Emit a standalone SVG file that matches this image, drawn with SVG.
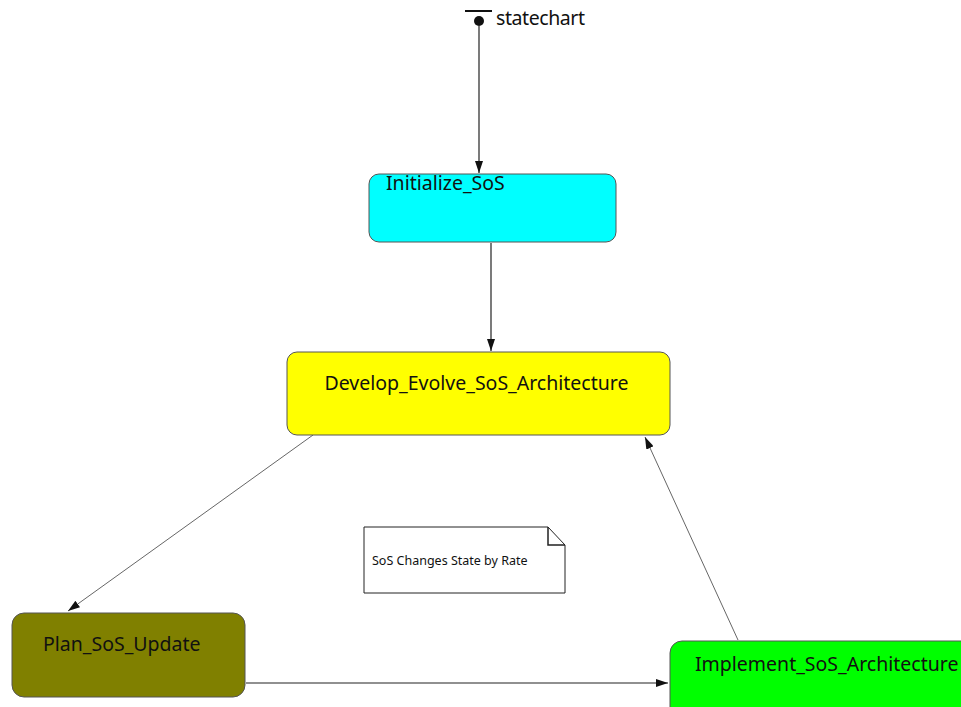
<svg xmlns="http://www.w3.org/2000/svg" width="961" height="707" viewBox="0 0 961 707">
<style>
.st{stroke:#555;stroke-width:1}
.lbl{font-family:"Noto Sans","Open Sans",sans-serif;font-size:19.5px;fill:#111}
.note{font-family:"Noto Sans","Open Sans",sans-serif;font-size:12.5px;fill:#111}
.ln{stroke:#222;stroke-width:1.2;fill:none}
.lg{stroke:#666;stroke-width:1;fill:none}
</style>
<defs>
<marker id="ah" viewBox="0 0 12 8" refX="12" refY="4" markerWidth="12" markerHeight="8" markerUnits="userSpaceOnUse" orient="auto">
<path d="M0,0 L12,4 L0,8 Z" fill="#111"/>
</marker>
</defs>
<rect width="961" height="707" fill="#fff"/>
<g id="connectors">
<line class="ln" x1="479" y1="26" x2="479" y2="173" marker-end="url(#ah)"/>
<line class="ln" x1="491" y1="243" x2="491" y2="351" marker-end="url(#ah)"/>
<line class="lg" x1="313" y1="435" x2="68" y2="611" marker-end="url(#ah)"/>
<line class="ln" x1="246" y1="683" x2="668" y2="683" marker-end="url(#ah)"/>
<line class="lg" x1="738" y1="640" x2="645" y2="437" marker-end="url(#ah)"/>
</g>
<g id="initial">
<line x1="465" y1="11" x2="492" y2="11" stroke="#111" stroke-width="2"/>
<circle cx="479" cy="21" r="5" fill="#111"/>
<text class="lbl" x="496" y="25" textLength="89">statechart</text>
</g>
<g id="initialize">
<rect class="st" x="369" y="174" width="247" height="68" rx="10" fill="#00ffff"/>
<text class="lbl" x="386" y="190">Initialize_SoS</text>
</g>
<g id="develop">
<rect class="st" x="287" y="352" width="383" height="83" rx="10" fill="#ffff00"/>
<text class="lbl" x="476.5" y="390" text-anchor="middle">Develop_Evolve_SoS_Architecture</text>
</g>
<g id="plan">
<rect class="st" x="12" y="613" width="233" height="84" rx="12" fill="#808000"/>
<text class="lbl" x="43" y="651">Plan_SoS_Update</text>
</g>
<g id="implement">
<rect class="st" x="670" y="641" width="310" height="80" rx="12" fill="#00ff00"/>
<text class="lbl" x="695" y="671">Implement_SoS_Architecture</text>
</g>
<g id="note">
<path d="M364,527 H548 L565,545 V593 H364 Z" fill="#fff" stroke="#222" stroke-width="1"/>
<path d="M548,527 V545 H565" fill="none" stroke="#222" stroke-width="1.5"/>
<text class="note" x="372" y="565">SoS Changes State by Rate</text>
</g>
</svg>
